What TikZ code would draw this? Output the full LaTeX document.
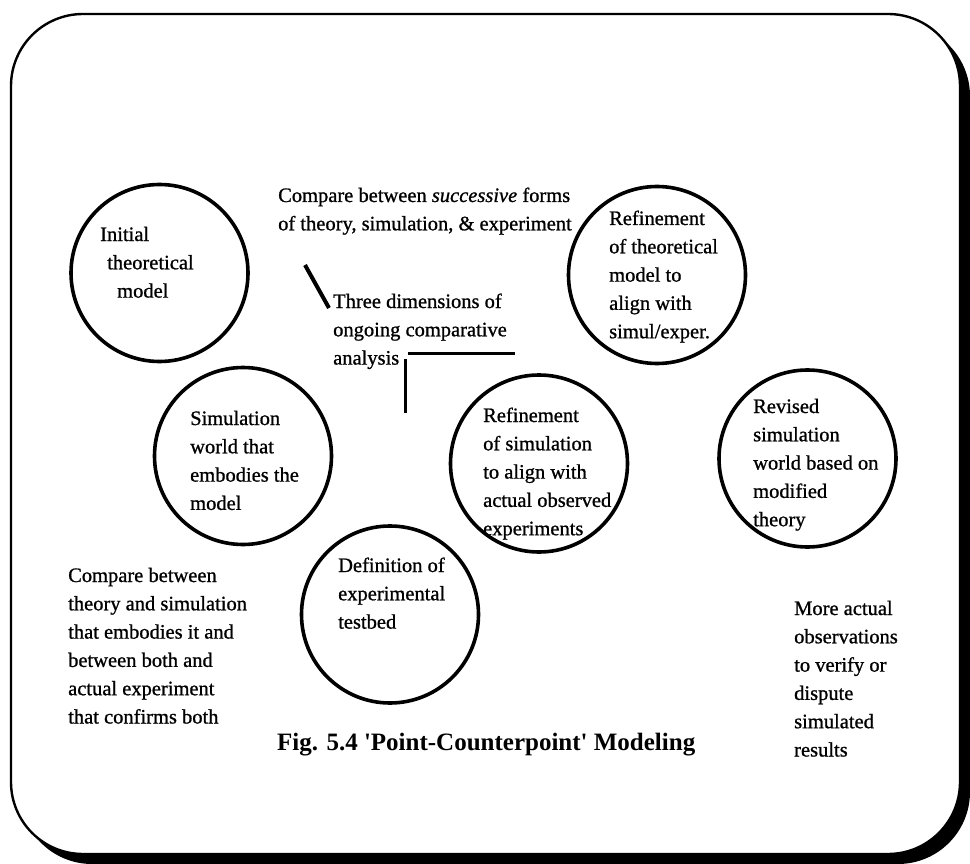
\documentclass[tikz,border=0pt]{standalone}
\usepackage{fontspec}
\setmainfont{Liberation Serif}
% heavier cut of the body face
\newfontfamily\heavyserif[FakeBold=0.9]{Liberation Serif}
% left-aligned block of lines whose baseline is that of its first line
\newcommand\txtblock[1]{\begin{tabular}[t]{@{}l@{}}#1\end{tabular}}
\begin{document}
\begin{tikzpicture}[x=1pt,y=-1pt,
  bubble/.style={draw, line width=3.6pt, circle, minimum size=177pt, inner sep=0pt},
  label/.style={anchor=base west, inner sep=0pt, font=\heavyserif\fontsize{20.5}{28.3}\selectfont},
  caption/.style={anchor=base west, inner sep=0pt, font=\fontsize{25}{30}\selectfont\bfseries},
  axis/.style={line width=3pt}]
\useasboundingbox (0,0) rectangle (970,864);

% framed panel with a drop shadow
\fill[black, rounded corners=72pt] (20,24) rectangle (970,864);
\filldraw[fill=white, draw=black, line width=2.4pt, rounded corners=72pt] (11,14) rectangle (960,854);

% the six stages
\node[bubble] (init)   at (159.5,273) {};
\node[bubble] (simw)   at (243,456) {};
\node[bubble] (reft)   at (657,275) {};
\node[bubble] (refs)   at (539,463.5) {};
\node[bubble] (revs)   at (807.5,458.5) {};
\node[bubble] (defx)   at (390,614.5) {};

% stage texts
\node[label] (tinit) at (100,241) {\txtblock{Initial\\ \hspace{7pt}theoretical\\ \hspace{17pt}model}};
\node[label] (tsimw) at (190,425) {\txtblock{Simulation\\ world that\\ embodies the\\ model}};
\node[label] (treft) at (609,225) {\txtblock{Refinement\\ of theoretical\\ model to\\ align with\\ simul/exper.}};
\node[label] (trefs) at (483,422) {\txtblock{Refinement\\ of simulation\\ to align with\\ actual observed\\ experiments}};
\node[label] (trevs) at (753,413) {\txtblock{Revised\\ simulation\\ world based on\\ modified\\ theory}};
\node[label] (tdefx) at (338,572) {\txtblock{Definition of\\ experimental\\ testbed}};

% comparison notes
\node[label] (succ) at (278,202) {\txtblock{Compare between \textit{successive} forms\\ of theory, simulation, \& experiment}};
\node[label] (dims) at (333,308) {\txtblock{Three dimensions of\\ ongoing comparative\\ analysis}};
\node[label] (both) at (68,582) {\txtblock{Compare between\\ theory and simulation\\ that embodies it and\\ between both and\\ actual experiment\\ that confirms both}};
\node[label] (more) at (794,615) {\txtblock{More actual\\ observations\\ to verify or\\ dispute\\ simulated\\ results}};

% the three axes of comparison
\coordinate (d1) at (305,265);
\coordinate (d2) at (329,308);
\coordinate (h1) at (408,353);
\coordinate (h2) at (515,353);
\coordinate (v1) at (405,359);
\coordinate (v2) at (405,413);
\draw[axis, line width=4pt] (d1) -- (d2);
\draw[axis] (h1) -- (h2);
\draw[axis] (v1) -- (v2);

% caption
\node[caption] (cap) at (277,750) {Fig. 5.4 \textquotesingle Point-Counterpoint\textquotesingle\ Modeling};
\end{tikzpicture}
\end{document}
